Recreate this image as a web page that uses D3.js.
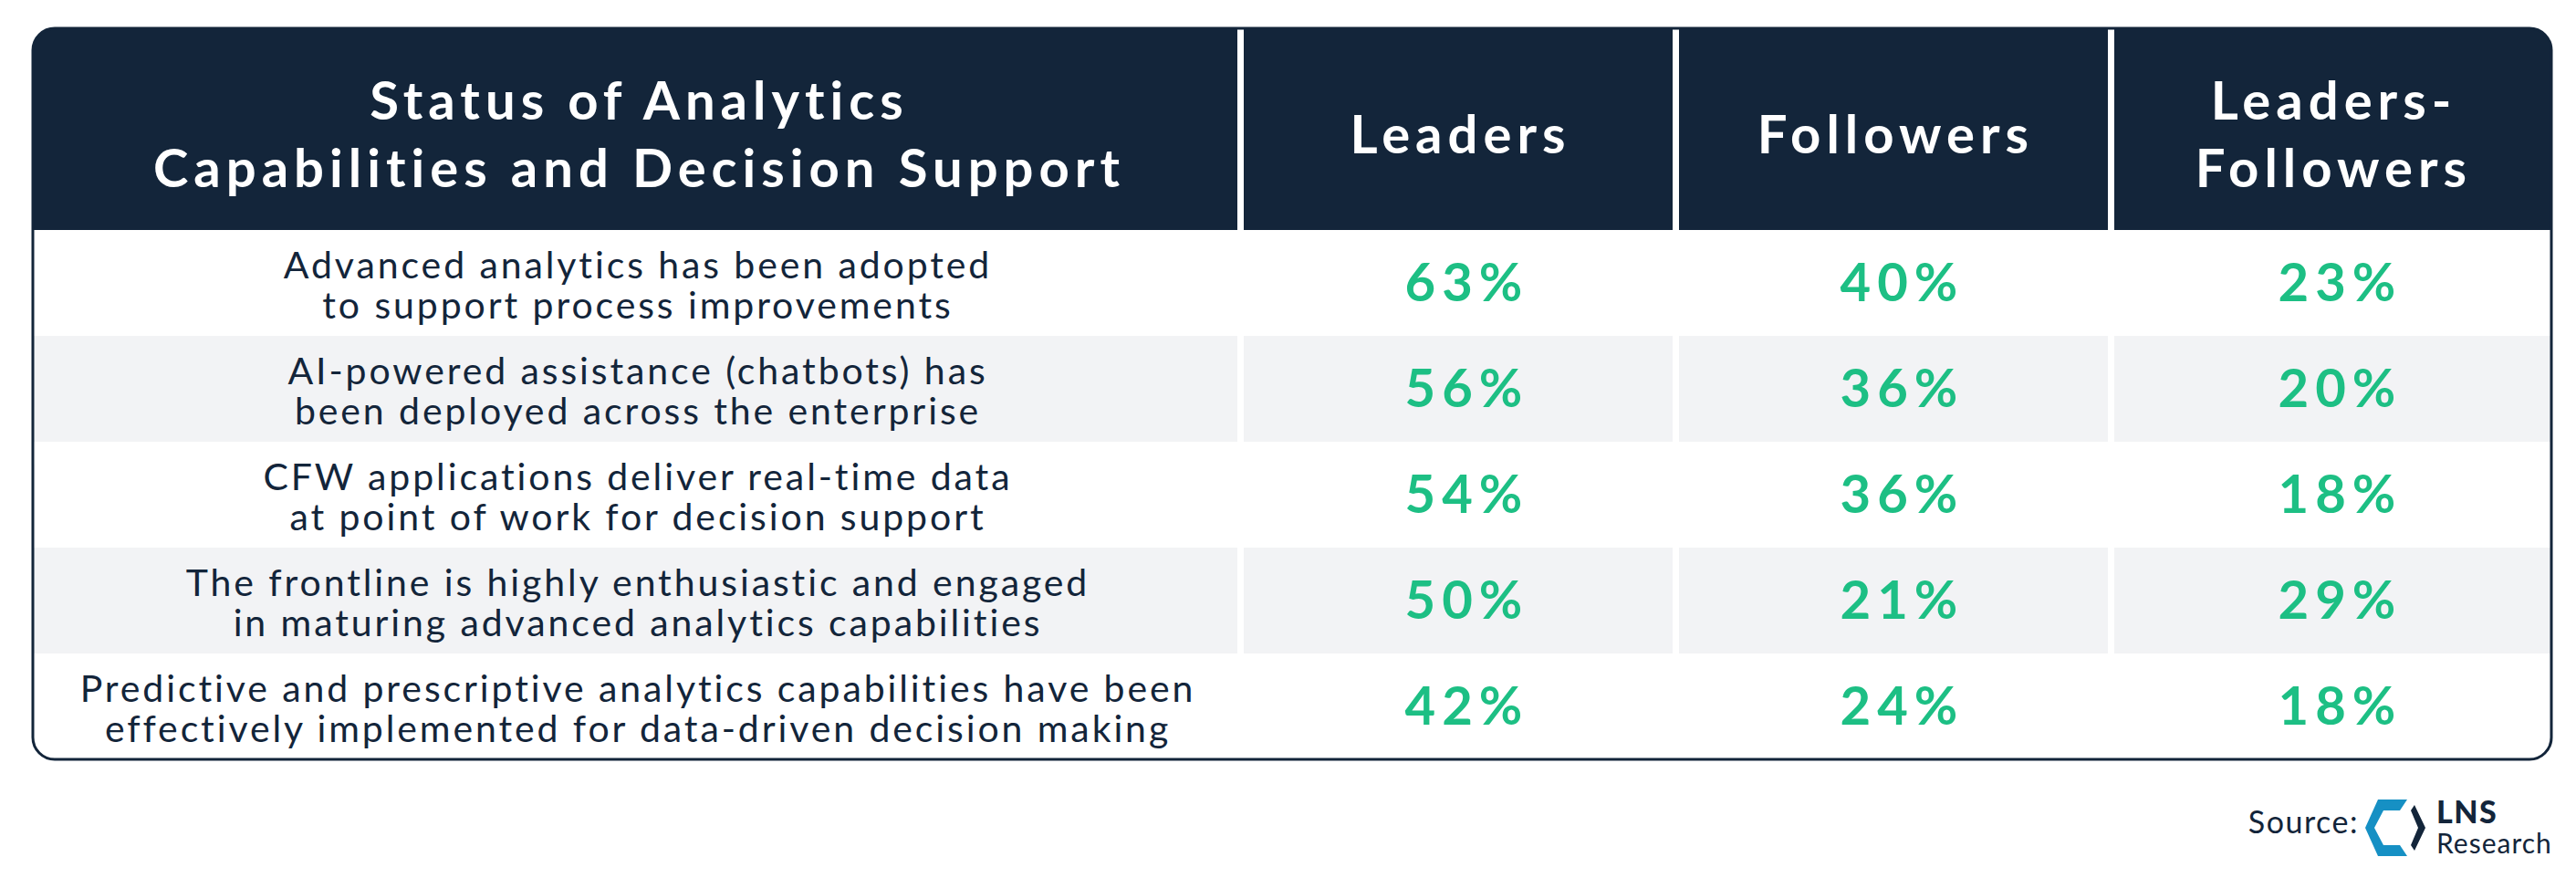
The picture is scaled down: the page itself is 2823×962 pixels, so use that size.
<!DOCTYPE html>
<html><head><meta charset="utf-8">
<script src="https://cdn.jsdelivr.net/npm/d3@7"></script>
<style>body{margin:0;background:#fff}svg{display:block}text{font-family:Lato,"Noto Sans",sans-serif}</style>
</head><body><svg id="c" width="2823" height="962"></svg>
<script>
const headers = [["Status of Analytics","Capabilities and Decision Support"],["Leaders"],["Followers"],["Leaders-","Followers"]];
const statements = [
 ["Advanced analytics has been adopted","to support process improvements"],
 ["AI-powered assistance (chatbots) has","been deployed across the enterprise"],
 ["CFW applications deliver real-time data","at point of work for decision support"],
 ["The frontline is highly enthusiastic and engaged","in maturing advanced analytics capabilities"],
 ["Predictive and prescriptive analytics capabilities have been","effectively implemented for data-driven decision making"]
];
const leaders = [63,56,54,50,42];
const followers = [40,36,36,21,24];
const gap = [23,20,18,29,18];

const navy="#13253a", green="#1dbf84";
const svg=d3.select("#c");
const L=36,R=2796,T=31,HB=252,B=832;
const colEdges=[L,1359,1836,2313,R];
const y=d3.scaleBand().domain(d3.range(statements.length)).range([HB,B]);
svg.append("clipPath").attr("id","cp").append("rect").attr("x",L).attr("y",T).attr("width",R-L).attr("height",B-T).attr("rx",24);
const g=svg.append("g").attr("clip-path","url(#cp)");
g.append("rect").attr("x",L).attr("y",T).attr("width",R-L).attr("height",HB-T).attr("fill",navy);
g.selectAll(".row").data(statements).join("rect").attr("x",L).attr("y",(d,i)=>y(i)).attr("width",R-L).attr("height",y.bandwidth()).attr("fill",(d,i)=>i%2?"#f2f3f5":"#fff");
g.selectAll(".dv").data(colEdges.slice(1,4)).join("rect").attr("x",d=>d-3).attr("y",T).attr("width",7).attr("height",B-T).attr("fill","#fff");
svg.append("rect").attr("x",L).attr("y",T).attr("width",R-L).attr("height",B-T).attr("rx",24).attr("fill","none").attr("stroke",navy).attr("stroke-width",3);
const cx=i=>(colEdges[i]+colEdges[i+1])/2;
headers.forEach((h,i)=>{
  const t=svg.append("text").attr("text-anchor","middle").attr("fill","#fff").attr("font-size",58).attr("font-weight",700).attr("letter-spacing",6);
  const y0=(T+HB)/2-(h.length-1)*37+26;
  h.forEach((s,k)=>t.append("tspan").attr("x",cx(i)+3).attr("y",y0+k*74).text(s));
});
statements.forEach((s,i)=>{
  const t=svg.append("text").attr("text-anchor","middle").attr("fill",navy).attr("font-size",41).attr("letter-spacing",2.9);
  const yc=y(i)+y.bandwidth()/2;
  s.forEach((l,k)=>t.append("tspan").attr("x",cx(0)+1.5).attr("y",yc-5+k*44).text(l));
});
[leaders,followers,gap].forEach((arr,c)=>{
  svg.selectAll(null).data(arr).join("text").attr("x",cx(c+1)+10).attr("y",(d,i)=>y(i)+y.bandwidth()/2+20)
   .attr("text-anchor","middle").attr("fill",green).attr("font-size",58).attr("font-weight",700).attr("letter-spacing",7).text(d=>d+"%");
});
svg.append("text").attr("x",2585).attr("y",913).attr("text-anchor","end").attr("fill",navy).attr("font-size",34).attr("letter-spacing",1.5).text("Source:");
const lg=svg.append("g").attr("transform","translate(2598,876)");
lg.append("path").attr("d","M8,0 L40,0 L32,12 L14,12 L4,31 L14,50 L32,50 L40,62 L8,62 L-6,31 Z").attr("fill","#1690c4");
lg.append("path").attr("d","M48,6 L60,31 L48,56 L44,50 L52,31 L44,12 Z").attr("fill",navy);
svg.append("text").attr("x",2670).attr("y",902).attr("fill",navy).attr("font-size",34).attr("font-weight",900).attr("letter-spacing",1.5).text("LNS");
svg.append("text").attr("x",2670).attr("y",935).attr("fill",navy).attr("font-size",30).attr("letter-spacing",1).text("Research");
</script></body></html>
